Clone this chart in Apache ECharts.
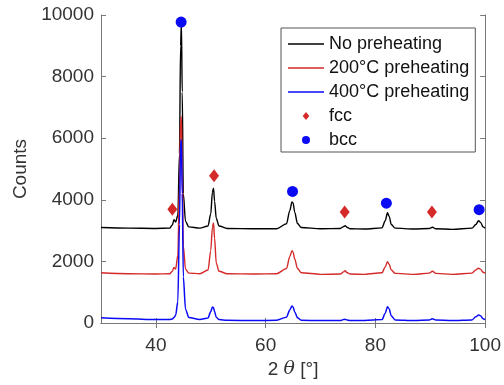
<!DOCTYPE html>
<html>
<head>
<meta charset="utf-8">
<script src="https://cdn.jsdelivr.net/npm/echarts@6/dist/echarts.min.js"></script>
<style>
  html, body {margin: 0; padding: 0; background: #fff;}
  #main {width: 504px; height: 385px;}
</style>
</head>
<body>
<div id="main"></div>
<script>
// 2θ positions shared by the three scans (denser around the peaks)
const twoTheta = [30, 35, 40, 42.5, 43.0, 43.3, 43.6, 44.0, 44.3, 44.5, 44.65, 44.8, 45.0, 45.4, 46, 48,
  49.5, 50.0, 50.3, 50.5, 50.7, 51.0, 51.5, 53, 58, 62, 63.8, 64.4, 64.8, 65.0, 65.3, 65.8, 66.5, 70,
  73.6, 74.2, 74.5, 74.8, 75.4, 78, 81.2, 81.8, 82.2, 82.5, 82.9, 83.6, 87, 89.8, 90.4, 91.0, 94,
  97.6, 98.3, 98.8, 99.2, 99.6, 100];

const noPreheating = [3100, 3080, 3070, 3080, 3180, 3350, 3280, 3500, 5500, 9000, 9750, 7500, 4200, 3300, 3120, 3080,
  3150, 3550, 4250, 4380, 3950, 3400, 3150, 3070, 3060, 3060, 3220, 3650, 3930, 3900, 3600, 3230, 3100, 3060,
  3070, 3130, 3160, 3110, 3060, 3050, 3090, 3320, 3580, 3470, 3200, 3080, 3050, 3070, 3110, 3060, 3040,
  3080, 3200, 3320, 3260, 3120, 3080];

const preheat200 = [1630, 1600, 1590, 1600, 1680, 1800, 1750, 2200, 4500, 6600, 6700, 5000, 2500, 1750, 1620, 1600,
  1720, 2350, 3100, 3250, 2750, 1950, 1680, 1600, 1590, 1600, 1770, 2150, 2350, 2300, 2080, 1770, 1630, 1580,
  1590, 1660, 1700, 1640, 1590, 1580, 1630, 1820, 1990, 1910, 1720, 1610, 1580, 1620, 1680, 1610, 1580,
  1620, 1720, 1780, 1740, 1650, 1620];

const preheat400 = [170, 140, 110, 110, 130, 180, 250, 700, 3200, 5900, 5950, 4200, 1500, 450, 180, 110,
  160, 370, 520, 500, 370, 190, 110, 90, 80, 90, 190, 420, 550, 520, 360, 170, 90, 80,
  80, 110, 120, 100, 80, 80, 110, 320, 530, 460, 230, 100, 80, 100, 140, 100, 80,
  100, 200, 260, 230, 140, 110];

// phase markers
const fccPos = [43.0, 50.6, 74.4, 90.3];
const fccCounts = [3690, 4780, 3600, 3600];
const bccPos = [44.6, 64.9, 82.0, 98.9];
const bccCounts = [9770, 4270, 3890, 3680];

const xTicks = [40, 60, 80, 100];

const zip = (xs, ys) => xs.map((x, i) => [x, ys[i]]);

const font = 'Liberation Sans';
const axisColor = '#777';
const textColor = '#333';
const red = '#d42a2a';
const blue = '#0a0af5';

const lineIcon = 'path://M0,0H40V1.4H0Z';
const diamondIcon = 'path://M5,0L10,6L5,12L0,6Z';

const chart = echarts.init(document.getElementById('main'));

const boxAxis = {
  axisLine: {show: true, lineStyle: {color: axisColor, width: 1}},
  axisTick: {show: true, inside: true, length: 5, lineStyle: {color: axisColor}},
  splitLine: {show: false}
};

chart.setOption({
  animation: false,
  backgroundColor: '#fff',
  textStyle: {fontFamily: font},
  grid: {left: 101, top: 15, right: 17, bottom: 62},
  xAxis: [
    {
      type: 'value', min: 30, max: 100, position: 'bottom',
      ...boxAxis,
      axisTick: {...boxAxis.axisTick, customValues: xTicks},
      axisLabel: {customValues: xTicks, color: textColor, fontSize: 19, margin: 13, fontFamily: font},
      name: '2 {i|θ} [°]',
      nameLocation: 'middle',
      nameGap: 36,
      nameTextStyle: {
        color: textColor, fontSize: 19, fontFamily: font,
        rich: {i: {fontStyle: 'italic', fontSize: 19, fontFamily: 'DejaVu Serif', color: textColor}}
      }
    },
    {
      type: 'value', min: 30, max: 100, position: 'top',
      ...boxAxis,
      axisTick: {...boxAxis.axisTick, customValues: xTicks},
      axisLabel: {show: false}
    }
  ],
  yAxis: [
    {
      type: 'value', min: 0, max: 10000, interval: 2000, position: 'left',
      ...boxAxis,
      axisLabel: {color: textColor, fontSize: 19, margin: 7, fontFamily: font, formatter: v => String(v)},
      name: 'Counts',
      nameLocation: 'middle',
      nameGap: 70,
      nameTextStyle: {color: textColor, fontSize: 19, fontFamily: font}
    },
    {
      type: 'value', min: 0, max: 10000, interval: 2000, position: 'right',
      ...boxAxis,
      axisLabel: {show: false}
    }
  ],
  legend: {
    orient: 'vertical',
    left: 281,
    top: 28,
    width: 190,
    padding: [7, 6, 3, 7],
    itemWidth: 36,
    itemHeight: 8,
    itemGap: 6,
    symbolKeepAspect: true,
    borderColor: '#555',
    borderWidth: 1,
    backgroundColor: '#fff',
    textStyle: {color: '#111', fontSize: 18, lineHeight: 18, fontFamily: font},
    data: [
      {name: 'No preheating', icon: lineIcon},
      {name: '200°C preheating', icon: lineIcon},
      {name: '400°C preheating', icon: lineIcon},
      {name: 'fcc', icon: diamondIcon},
      {name: 'bcc', icon: 'circle'}
    ]
  },
  series: [
    {
      name: 'No preheating', type: 'line', symbol: 'none', smooth: 0.3, smoothMonotone: 'x',
      data: zip(twoTheta, noPreheating),
      lineStyle: {color: '#000', width: 1.4}, itemStyle: {color: '#000'}
    },
    {
      name: '200°C preheating', type: 'line', symbol: 'none', smooth: 0.3, smoothMonotone: 'x',
      data: zip(twoTheta, preheat200),
      lineStyle: {color: red, width: 1.4}, itemStyle: {color: red}
    },
    {
      name: '400°C preheating', type: 'line', symbol: 'none', smooth: 0.3, smoothMonotone: 'x',
      data: zip(twoTheta, preheat400),
      lineStyle: {color: blue, width: 1.5}, itemStyle: {color: blue}
    },
    {
      name: 'fcc', type: 'scatter', symbol: diamondIcon, symbolSize: [10, 13],
      data: zip(fccPos, fccCounts),
      itemStyle: {color: red, opacity: 1}, z: 5
    },
    {
      name: 'bcc', type: 'scatter', symbol: 'circle', symbolSize: 11,
      data: zip(bccPos, bccCounts),
      itemStyle: {color: blue, opacity: 1}, z: 5
    }
  ]
});
</script>
</body>
</html>
